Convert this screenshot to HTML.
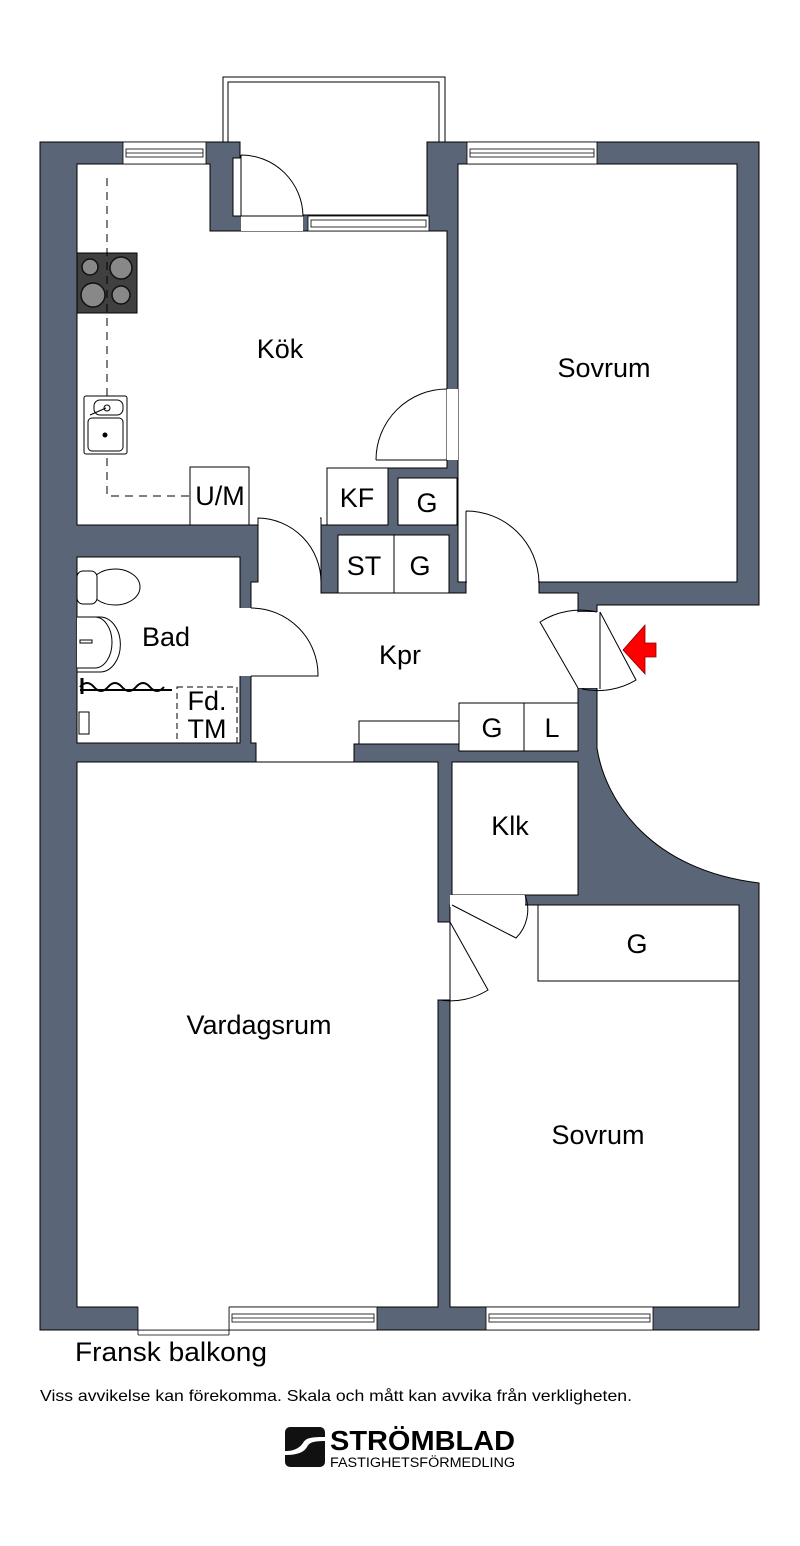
<!DOCTYPE html>
<html><head><meta charset="utf-8"><style>
html,body{margin:0;padding:0;background:#fff;}
svg{display:block;}
text{font-family:"Liberation Sans",sans-serif;fill:#000;}
</style></head><body>
<svg width="800" height="1546" viewBox="0 0 800 1546" xmlns="http://www.w3.org/2000/svg">
<g stroke="#000" stroke-width="1">
<rect x="223" y="77" width="222" height="138" fill="#fff"/>
<rect x="228" y="82" width="211" height="133" fill="#fff"/>
<path d="M40,142 H206 V142 H240 V215 H427 V142 H759 V605 H597 V748 C605,800 650,870 759,883 V1330 H40 Z" fill="#5b6578"/>
</g>
<g fill="#fff" stroke="#000" stroke-width="1">
<!-- kitchen -->
<path d="M77,164 H210 V231 H447 V468 H388 V525 H321 V518 H258 V525 H77 Z"/>
<rect x="241" y="155" width="62" height="76" stroke="none"/>
<rect x="233" y="158" width="8" height="58"/>
<!-- sovrum top -->
<rect x="458" y="164" width="279" height="418"/>
<rect x="447" y="389" width="11" height="71" stroke="none"/>
<!-- Kpr -->
<path d="M258,518 H321 V593 H466 V582 H539 V593 H578 V612 H597 V688 H578 V744 H354 V762 H256 V743 H251 V582 H258 Z"/>
<!-- bath -->
<rect x="77" y="557" width="163" height="186"/>
<rect x="239" y="608" width="14" height="68" stroke="none"/>
<!-- vardagsrum -->
<path d="M77,762 H438 V922 H450 V1000 H438 V1307 H77 Z"/>
<rect x="452" y="762" width="126" height="133"/>
<path d="M450,905 H739 V1307 H450 Z"/>
<rect x="450" y="895" width="75" height="12" stroke="none"/>
<rect x="578" y="612" width="30" height="76" stroke="none"/>
<!-- opening covers -->
<rect x="259" y="510" width="61" height="18" stroke="none"/>
<rect x="467" y="578" width="71" height="18" stroke="none"/>
<rect x="257" y="740" width="96" height="21" stroke="none"/>
</g>
<g fill="#fff" stroke="#000" stroke-width="0.8">
<rect x="123" y="142" width="83" height="22"/><rect x="126" y="149" width="77" height="8"/><line x1="126" y1="153" x2="203" y2="153"/>
<rect x="467" y="142" width="130" height="22"/><rect x="470" y="149" width="124" height="8"/><line x1="470" y1="153" x2="594" y2="153"/>
<rect x="308" y="216" width="121" height="15"/><rect x="311" y="220" width="115" height="7"/>
<rect x="229" y="1307" width="148" height="23"/><rect x="232" y="1314" width="142" height="8"/><line x1="232" y1="1318" x2="374" y2="1318"/>
<rect x="486" y="1307" width="167" height="23"/><rect x="489" y="1314" width="161" height="8"/><line x1="489" y1="1318" x2="650" y2="1318"/>
<rect x="138" y="1300" width="91" height="30" stroke="none"/>
<line x1="138" y1="1307" x2="138" y2="1335"/><line x1="229" y1="1307" x2="229" y2="1335"/><line x1="138" y1="1335" x2="229" y2="1335"/><line x1="138" y1="1330" x2="229" y2="1330"/>
</g>
<g fill="none" stroke="#000" stroke-width="1">
<path d="M241,155 V216 H303 A62,62 0 0 0 241,155"/>
<path d="M376,460 H447 M376,460 A71,71 0 0 1 447,389"/>
<path d="M258,518 V582 M258,518 A64,64 0 0 1 321,582"/>
<path d="M466,511 V582 M466,511 A73,73 0 0 1 539,582"/>
<path d="M251,608 A67,67 0 0 1 318,676 H251"/>
<path d="M578,688 L540,622 A75,75 0 0 1 597,612 M600,612 V689 M600,612 L636,680 A75,75 0 0 1 582,689"/>
<path d="M452,905 L516,938 A40,40 0 0 0 525,895"/>
<path d="M450,922 L488,990 A70,70 0 0 1 440,1000"/>
</g>
<polygon points="623,650 645,625 645,643 656,643 656,657 645,657 645,674" fill="#f00" stroke="#800" stroke-width="0.8"/>
<g fill="#fff" stroke="#000" stroke-width="1">
<rect x="190" y="467" width="59" height="58"/>
<rect x="327" y="468" width="61" height="57"/>
<rect x="398" y="478" width="59" height="47"/>
<rect x="338" y="535" width="111" height="58"/><line x1="394" y1="535" x2="394" y2="593"/>
<rect x="359" y="721" width="100" height="23"/>
<rect x="459" y="703" width="119" height="48"/><line x1="524" y1="703" x2="524" y2="751"/>
<rect x="538" y="905" width="201" height="76"/>
</g>
<rect x="77" y="253" width="60" height="60" fill="#404040" stroke="#000"/>
<g fill="#888" stroke="#111" stroke-width="1.5">
<circle cx="90" cy="267" r="8"/><circle cx="121" cy="268" r="11"/><circle cx="93" cy="295" r="12"/><circle cx="121" cy="295" r="9"/>
</g>
<path d="M107,178 V496 H190" fill="none" stroke="#000" stroke-dasharray="8,6"/>
<g fill="#fff" stroke="#000" stroke-width="1">
<rect x="84" y="396" width="43" height="58" rx="2"/>
<rect x="94" y="400" width="29" height="15" rx="6"/>
<rect x="88" y="418" width="35" height="33" rx="4"/>
<circle cx="105" cy="435" r="2" fill="#000"/>
<circle cx="107" cy="408" r="3"/>
<line x1="90" y1="415" x2="106" y2="408"/>
</g>
<g fill="#fff" stroke="#000" stroke-width="1">
<ellipse cx="115" cy="587" rx="25" ry="18"/>
<rect x="77" y="571" width="20" height="33" rx="6"/>
<path d="M77,617 H100 A20,27 0 0 1 100,672 H77 Z"/>
<path d="M77,617 H95 A16,24 0 0 1 95,668 H77" />
<rect x="80" y="640" width="12" height="3"/>
<path d="M80,687 q7,-8 14,0 q7,8 14,0 q7,-8 14,0 q7,8 14,0 q7,-8 14,0 q7,8 14,0" fill="none" stroke-width="2"/>
<line x1="80" y1="690" x2="172" y2="690" stroke-width="2"/>
<line x1="82" y1="678" x2="82" y2="694" stroke-width="3"/>
<rect x="79" y="712" width="10" height="22"/>
</g>
<rect x="177" y="687" width="60" height="56" fill="none" stroke="#000" stroke-dasharray="6,4"/>
<g font-size="27">
<text x="280" y="358" text-anchor="middle">Kök</text>
<text x="604" y="377" text-anchor="middle">Sovrum</text>
<text x="166" y="646" text-anchor="middle">Bad</text>
<text x="400" y="664" text-anchor="middle">Kpr</text>
<text x="510" y="835" text-anchor="middle">Klk</text>
<text x="637" y="953" text-anchor="middle">G</text>
<text x="259" y="1034" text-anchor="middle">Vardagsrum</text>
<text x="598" y="1144" text-anchor="middle">Sovrum</text>
<text x="220" y="505" text-anchor="middle">U/M</text>
<text x="357" y="507" text-anchor="middle">KF</text>
<text x="427" y="512" text-anchor="middle">G</text>
<text x="364" y="575" text-anchor="middle">ST</text>
<text x="420" y="575" text-anchor="middle">G</text>
<text x="492" y="737" text-anchor="middle">G</text>
<text x="552" y="737" text-anchor="middle">L</text>
<text x="207" y="710" text-anchor="middle">Fd.</text>
<text x="207" y="738" text-anchor="middle">TM</text>
<text x="75" y="1361" textLength="192" lengthAdjust="spacingAndGlyphs">Fransk balkong</text>
</g>
<text x="40" y="1401" font-size="16" textLength="592" lengthAdjust="spacingAndGlyphs">Viss avvikelse kan förekomma. Skala och mått kan avvika från verkligheten.</text>
<rect x="285" y="1427" width="40" height="40" rx="5" fill="#111"/>
<path d="M285,1451 C296,1451 300,1447 303,1443 C306,1438 310,1437 325,1437 V1441 C312,1441 309,1443 307,1447 C304,1452 298,1455 285,1455 Z" fill="#fff"/>
<text x="330" y="1450" font-size="28" font-weight="bold" textLength="185" lengthAdjust="spacingAndGlyphs">STRÖMBLAD</text>
<text x="330" y="1467" font-size="13.5" textLength="185" lengthAdjust="spacingAndGlyphs">FASTIGHETSFÖRMEDLING</text>
</svg>
</body></html>
